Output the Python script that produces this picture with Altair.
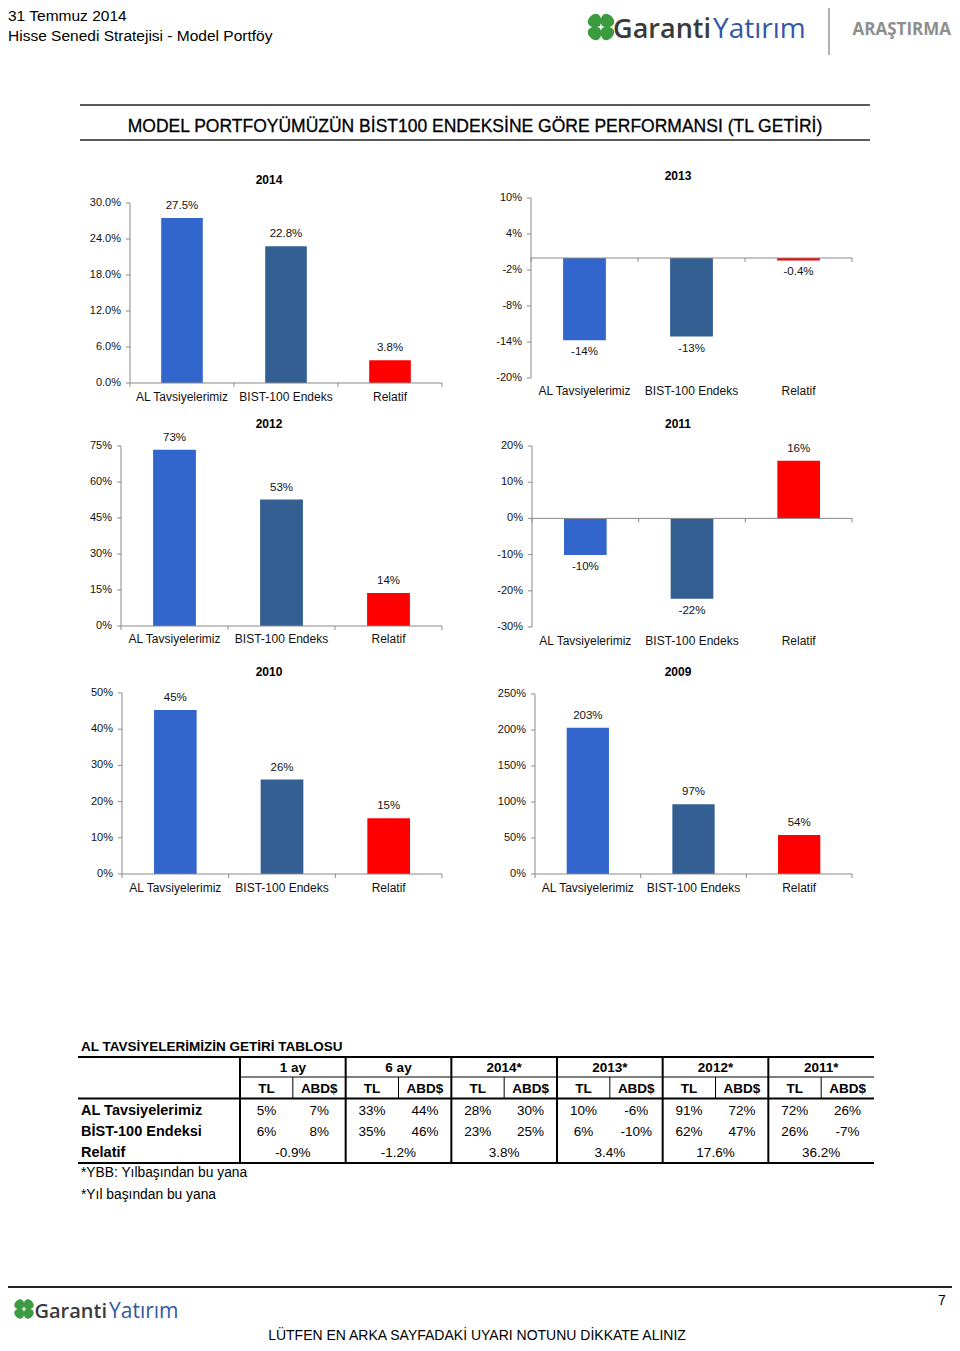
import altair as alt
import pandas as pd

# ---------------- data ----------------
categories = ["AL Tavsiyelerimiz", "BIST-100 Endeks", "Relatif"]
bar_colors = ["#3366CC", "#335F93", "#FF0000"]

values_2014 = [27.5, 22.8, 3.8]
labels_2014 = ["27.5%", "22.8%", "3.8%"]
values_2013 = [-13.7, -13.1, -0.4]
labels_2013 = ["-14%", "-13%", "-0.4%"]
values_2012 = [73.4, 52.7, 13.8]
labels_2012 = ["73%", "53%", "14%"]
values_2011 = [-10.1, -22.2, 15.9]
labels_2011 = ["-10%", "-22%", "16%"]
values_2010 = [45.3, 26.1, 15.4]
labels_2010 = ["45%", "26%", "15%"]
values_2009 = [203, 97, 54]
labels_2009 = ["203%", "97%", "54%"]

ticks_2014 = [0, 6, 12, 18, 24, 30]
ticks_2013 = [-20, -14, -8, -2, 4, 10]
ticks_2012 = [0, 15, 30, 45, 60, 75]
ticks_2011 = [-30, -20, -10, 0, 10, 20]
ticks_2010 = [0, 10, 20, 30, 40, 50]
ticks_2009 = [0, 50, 100, 150, 200, 250]

tick_labels_2014 = ["0.0%", "6.0%", "12.0%", "18.0%", "24.0%", "30.0%"]

group_labels = ["1 ay", "6 ay", "2014*", "2013*", "2012*", "2011*"]
sub_labels = ["TL", "ABD$"]
row_labels = ["AL Tavsiyelerimiz", "BİST-100 Endeksi", "Relatif"]
al_tl = [5, 33, 28, 10, 91, 72]
al_usd = [7, 44, 30, -6, 72, 26]
bist_tl = [6, 35, 23, 6, 62, 26]
bist_usd = [8, 46, 25, -10, 47, -7]
relatif = ["-0.9%", "-1.2%", "3.8%", "3.4%", "17.6%", "36.2%"]

# ---------------- layout helpers ----------------
W, H = 944, 1335
M = 8
F = "Liberation Sans"
AXIS = "#8a8a8a"


def X(v):
    return v - M


def Y(v):
    return v - M


def txt(s, x, y, size=11, weight="normal", color="#000000", align="left",
        font=F, baseline="middle", **kw):
    return alt.Chart(pd.DataFrame({"t": [s]})).mark_text(
        align=align, baseline=baseline, fontSize=size, fontWeight=weight,
        color=color, font=font, **kw
    ).encode(x=alt.value(X(x)), y=alt.value(Y(y)), text="t:N")


def hline(x1, x2, y, color="#000000", w=1.0):
    return alt.Chart(pd.DataFrame({"a": [0]})).mark_rule(
        color=color, strokeWidth=w).encode(
        x=alt.value(X(x1)), x2=alt.value(X(x2)), y=alt.value(Y(y)))


def vline(x, y1, y2, color="#000000", w=1.0):
    return alt.Chart(pd.DataFrame({"a": [0]})).mark_rule(
        color=color, strokeWidth=w).encode(
        x=alt.value(X(x)), y=alt.value(Y(y1)), y2=alt.value(Y(y2)))


LEAF = "M0,-0.1 C-0.6,-0.3 -0.66,-1 0,-1 C0.66,-1 0.6,-0.3 0,-0.1 Z"


def clover(cx, cy, r):
    df = pd.DataFrame({"a": [45, 135, 225, 315]})
    return alt.Chart(df).mark_point(
        shape=LEAF, filled=True, color="#3C9A40", opacity=1,
        size=(2 * r) ** 2, strokeWidth=0).encode(
        x=alt.value(X(cx)), y=alt.value(Y(cy)),
        angle=alt.Angle("a:Q", scale=None))


def panel(year, values, labels, ticks, tick_labels, x0, x1, ytop, ybot,
          cat_y, tx, ty):
    lo, hi = ticks[0], ticks[-1]
    xs = alt.Scale(domain=categories, range=[X(x0), X(x1)],
                   paddingInner=0.6, paddingOuter=0.3)
    ys = alt.Scale(domain=[lo, hi], range=[Y(ybot), Y(ytop)],
                   nice=False, zero=False)
    zero_px = Y(ybot) + (0 - lo) / (hi - lo) * (Y(ytop) - Y(ybot))
    df = pd.DataFrame({"cat": categories, "v": values, "lab": labels})
    out = []
    out.append(alt.Chart(pd.DataFrame({"lo": [lo], "hi": [hi]})).mark_rule(
        color=AXIS, strokeWidth=1).encode(
        x=alt.value(X(x0)),
        y=alt.Y("lo:Q", scale=ys, axis=None), y2="hi:Q"))
    tdf = pd.DataFrame({"t": ticks, "lab": tick_labels})
    out.append(alt.Chart(tdf).mark_rule(color=AXIS, strokeWidth=1).encode(
        x=alt.value(X(x0) - 4), x2=alt.value(X(x0)),
        y=alt.Y("t:Q", scale=ys, axis=None)))
    out.append(alt.Chart(tdf).mark_text(
        align="right", baseline="middle", fontSize=11, font=F,
        color="#111111").encode(
        x=alt.value(X(x0) - 9), y=alt.Y("t:Q", scale=ys, axis=None),
        text="lab:N"))
    out.append(alt.Chart(df).mark_bar().encode(
        x=alt.X("cat:N", scale=xs, axis=None),
        y=alt.Y("v:Q", scale=ys, axis=None, stack=None),
        y2=alt.datum(0),
        color=alt.Color("cat:N", scale=alt.Scale(domain=categories,
                                                  range=bar_colors),
                        legend=None)))
    out.append(alt.Chart(pd.DataFrame({"z": [0]})).mark_rule(
        color=AXIS, strokeWidth=1).encode(
        y=alt.Y("z:Q", scale=ys, axis=None),
        x=alt.value(X(x0)), x2=alt.value(X(x1))))
    bdf = pd.DataFrame({"b": [0, 1, 2, 3]})
    out.append(alt.Chart(bdf).mark_rule(color=AXIS, strokeWidth=1).encode(
        x=alt.X("b:Q", scale=alt.Scale(domain=[0, 3],
                                        range=[X(x0), X(x1)]), axis=None),
        y=alt.value(zero_px), y2=alt.value(zero_px + 4)))
    pos = df[df.v >= 0]
    neg = df[df.v < 0]
    if len(pos):
        out.append(alt.Chart(pos).mark_text(
            baseline="middle", fontSize=11.5, font=F, dy=-12,
            color="#111111").encode(
            x=alt.X("cat:N", scale=xs, axis=None),
            y=alt.Y("v:Q", scale=ys, axis=None), text="lab:N"))
    if len(neg):
        out.append(alt.Chart(neg).mark_text(
            baseline="middle", fontSize=11.5, font=F, dy=12,
            color="#111111").encode(
            x=alt.X("cat:N", scale=xs, axis=None),
            y=alt.Y("v:Q", scale=ys, axis=None), text="lab:N"))
    out.append(alt.Chart(df).mark_text(
        baseline="middle", fontSize=12, font=F, color="#111111").encode(
        x=alt.X("cat:N", scale=xs, axis=None), y=alt.value(Y(cat_y)),
        text="cat:N"))
    out.append(txt(year, tx, ty, size=12, weight="bold", align="center"))
    return out


layers = []

# ---------------- page header ----------------
layers.append(txt("31 Temmuz 2014", 8, 20.5, size=15.5, baseline="alphabetic"))
layers.append(txt("Hisse Senedi Stratejisi - Model Portföy", 8, 40.5,
                  size=15.5, baseline="alphabetic"))
layers.append(clover(601, 27, 15))
layers.append(txt("Garanti", 711, 38, size=27, weight=600, color="#3a3a3a",
                  font="Open Sans", baseline="alphabetic", align="right"))
layers.append(txt("Yatırım", 713, 38, size=28, color="#3457A6",
                  font="Open Sans", baseline="alphabetic"))
layers.append(vline(829, 3, 55, color="#9a9a9a", w=1.5))
layers.append(txt("ARAŞTIRMA", 951, 30, size=17, weight="bold",
                  color="#8e8e8e", font="Open Sans", align="right"))

# ---------------- title ----------------
layers.append(hline(80, 870, 105, color="#222222", w=1.5))
layers.append(txt("MODEL PORTFOYÜMÜZÜN BİST100 ENDEKSİNE GÖRE PERFORMANSI (TL GETİRİ)",
                  475, 127, size=17.5, align="center", stroke="#000000",
                  strokeWidth=0.3))
layers.append(hline(80, 870, 140, color="#222222", w=1.5))

# ---------------- panels ----------------
pct = lambda ts: [f"{t}%" for t in ts]
layers += panel("2014", values_2014, labels_2014, ticks_2014, tick_labels_2014,
                130, 442, 203, 383, 397, 269, 180)
layers += panel("2013", values_2013, labels_2013, ticks_2013, pct(ticks_2013),
                531, 852, 198, 378, 391, 678, 176)
layers += panel("2012", values_2012, labels_2012, ticks_2012, pct(ticks_2012),
                121, 442, 446, 626, 639, 269, 424)
layers += panel("2011", values_2011, labels_2011, ticks_2011, pct(ticks_2011),
                532, 852, 446, 627, 641, 678, 424)
layers += panel("2010", values_2010, labels_2010, ticks_2010, pct(ticks_2010),
                122, 442, 693, 874, 888, 269, 672)
layers += panel("2009", values_2009, labels_2009, ticks_2009, pct(ticks_2009),
                535, 852, 694, 874, 888, 678, 672)

# ---------------- table ----------------
TX0, TX1 = 240, 874
sub_ids = [f"{g}|{s}" for g in group_labels for s in sub_labels]
xs_sub = alt.Scale(domain=sub_ids, range=[X(TX0), X(TX1)],
                   paddingInner=0, paddingOuter=0)
xs_grp = alt.Scale(domain=group_labels, range=[X(TX0), X(TX1)],
                   paddingInner=0, paddingOuter=0)
row_keys = ["grp", "sub", "AL", "BIST", "REL"]
ys_row = alt.Scale(type="point", domain=row_keys, range=[Y(1068), Y(1153)],
                   padding=0)
xs_lin = alt.Scale(domain=[0, 6], range=[X(TX0), X(TX1)])

layers.append(txt("AL TAVSİYELERİMİZİN GETİRİ TABLOSU", 81, 1047, size=13.5,
                  weight="bold"))
layers.append(hline(78, 874, 1057, w=2))
layers.append(hline(TX0, 874, 1077, w=1))
layers.append(hline(78, 874, 1098.5, w=2))
layers.append(hline(78, 874, 1163, w=2))

vdf = pd.DataFrame({"k": [0, 1, 2, 3, 4, 5]})
layers.append(alt.Chart(vdf).mark_rule(color="#000000", strokeWidth=2).encode(
    x=alt.X("k:Q", scale=xs_lin, axis=None),
    y=alt.value(Y(1057)), y2=alt.value(Y(1163))))
sdf = pd.DataFrame({"k": [0.5, 1.5, 2.5, 3.5, 4.5, 5.5]})
layers.append(alt.Chart(sdf).mark_rule(color="#000000", strokeWidth=1).encode(
    x=alt.X("k:Q", scale=xs_lin, axis=None),
    y=alt.value(Y(1077)), y2=alt.value(Y(1098.5))))

gh = pd.DataFrame({"g": group_labels, "row": "grp", "t": group_labels})
layers.append(alt.Chart(gh).mark_text(fontSize=13.5, font=F, fontWeight="bold",
                                      baseline="middle").encode(
    x=alt.X("g:N", scale=xs_grp, axis=None),
    y=alt.Y("row:N", scale=ys_row, axis=None), text="t:N"))
sh = pd.DataFrame({"s": sub_ids, "row": "sub",
                   "t": [s for _ in group_labels for s in sub_labels]})
layers.append(alt.Chart(sh).mark_text(fontSize=13.5, font=F, fontWeight="bold",
                                      baseline="middle").encode(
    x=alt.X("s:N", scale=xs_sub, axis=None),
    y=alt.Y("row:N", scale=ys_row, axis=None), text="t:N"))

cells = []
for i, g in enumerate(group_labels):
    cells.append((f"{g}|TL", "AL", f"{al_tl[i]}%"))
    cells.append((f"{g}|ABD$", "AL", f"{al_usd[i]}%"))
    cells.append((f"{g}|TL", "BIST", f"{bist_tl[i]}%"))
    cells.append((f"{g}|ABD$", "BIST", f"{bist_usd[i]}%"))
cdf = pd.DataFrame(cells, columns=["s", "row", "t"])
layers.append(alt.Chart(cdf).mark_text(fontSize=13.5, font=F,
                                       baseline="middle").encode(
    x=alt.X("s:N", scale=xs_sub, axis=None),
    y=alt.Y("row:N", scale=ys_row, axis=None), text="t:N"))
rdf = pd.DataFrame({"g": group_labels, "row": "REL", "t": relatif})
layers.append(alt.Chart(rdf).mark_text(fontSize=13.5, font=F,
                                       baseline="middle").encode(
    x=alt.X("g:N", scale=xs_grp, axis=None),
    y=alt.Y("row:N", scale=ys_row, axis=None), text="t:N"))
ldf = pd.DataFrame({"row": ["AL", "BIST", "REL"], "t": row_labels})
layers.append(alt.Chart(ldf).mark_text(fontSize=14.5, font=F, fontWeight="bold",
                                       align="left", baseline="middle").encode(
    x=alt.value(X(81)),
    y=alt.Y("row:N", scale=ys_row, axis=None), text="t:N"))

layers.append(txt("*YBB: Yılbaşından bu yana", 81, 1173, size=13.8))
layers.append(txt("*Yıl başından bu yana", 81, 1195, size=13.8))

# ---------------- footer ----------------
layers.append(hline(8, 952, 1287, color="#222222", w=2))
layers.append(clover(24, 1309, 11))
layers.append(txt("Garanti", 107, 1318, size=20, weight=600, color="#3a3a3a",
                  font="Open Sans", baseline="alphabetic", align="right"))
layers.append(txt("Yatırım", 109, 1318, size=21, color="#3457A6",
                  font="Open Sans", baseline="alphabetic"))
layers.append(txt("7", 942, 1301, size=14, align="center"))
layers.append(txt("LÜTFEN EN ARKA SAYFADAKİ UYARI NOTUNU DİKKATE ALINIZ",
                  477, 1340, size=14, align="center", baseline="alphabetic"))

chart = alt.layer(*layers).resolve_scale(
    x="independent", y="independent", color="independent",
    angle="independent"
).properties(
    width=W, height=H, padding=0, background="#ffffff",
    autosize=alt.AutoSizeParams(type="none")
).configure_view(stroke=None)

chart.save("out.html", embed_options={"renderer": "svg", "actions": False})
